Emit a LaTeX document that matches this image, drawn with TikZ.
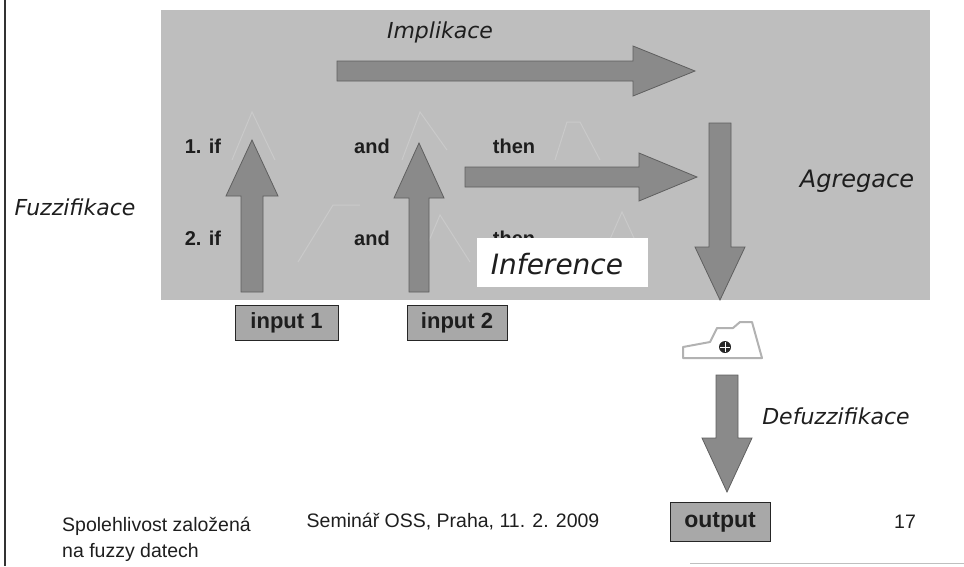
\documentclass[tikz,border=0pt]{standalone}
\usepackage{fontspec}
\setmainfont{Liberation Sans}
\newfontfamily\verd{DejaVu Sans}
\definecolor{panelgray}{RGB}{190,190,190}
\definecolor{faintline}{RGB}{202,202,202}
\definecolor{arrowgray}{RGB}{138,138,138}
\definecolor{arrowedge}{RGB}{95,95,95}
\definecolor{boxgray}{RGB}{168,168,168}
\definecolor{textdark}{RGB}{30,30,30}
\begin{document}
\begin{tikzpicture}[x=1pt,y=-1pt,
  panel/.style={fill=panelgray,draw=none},
  faint/.style={draw=faintline,line width=1pt},
  blockarrow/.style={fill=arrowgray,draw=arrowedge,line width=0.8pt,line join=miter},
  lbl/.style={font=\verd\itshape\fontsize{22}{26}\selectfont,text=textdark,inner sep=0pt},
  rulelbl/.style={font=\bfseries\fontsize{20}{22}\selectfont,text=textdark,inner sep=0pt},
  inbox/.style={draw=black!85,fill=boxgray,line width=1pt,font=\bfseries\fontsize{22}{24}\selectfont,text=textdark,minimum height=35pt,inner sep=0pt},
  foot/.style={font=\fontsize{19.5}{26}\selectfont,text=textdark,inner sep=0pt}]
\useasboundingbox (0,0) rectangle (964,566);
% frame lines
\draw[line width=2pt,black!80] (5,0) -- (5,566);
\draw[line width=1pt,black!25] (690,563) -- (964,563);
% shaded panel
\fill[panel] (161,10) rectangle (930,300);
% faint membership functions in the panel
\draw[faint] (232,160) -- (252,112) -- (275,160);
\draw[faint] (298,262) -- (333,205) -- (360,205);
\draw[faint] (402,160) -- (420,112) -- (447,150);
\draw[faint] (420,262) -- (440,215) -- (470,262);
\draw[faint] (555,160) -- (567,122) -- (580,122) -- (600,160);
\draw[faint] (600,262) -- (622,212) -- (645,262);
% labels in panel
\node[lbl] (impl) at (440,32) {Implikace};
\node[lbl,font=\verd\itshape\fontsize{24}{26}\selectfont] (agr) at (857,181) {Agregace};
\node[rulelbl] (if1) at (203,146) {1. if};
\node[rulelbl] (if2) at (203,238) {2. if};
\node[rulelbl] (and1) at (372,146) {and};
\node[rulelbl] (and2) at (372,238) {and};
\node[rulelbl] (then1) at (514,146) {then};
\node[rulelbl] (then2) at (514,238) {then};
% block arrows
\filldraw[blockarrow] (337,61) -- (633,61) -- (633,46) -- (695,71) -- (633,96) -- (633,81) -- (337,81) -- cycle;
\filldraw[blockarrow] (465,167) -- (639,167) -- (639,153) -- (697,177) -- (639,201) -- (639,187) -- (465,187) -- cycle;
\filldraw[blockarrow] (241,292) -- (241,196) -- (226,196) -- (252,140) -- (278,196) -- (263,196) -- (263,292) -- cycle;
\filldraw[blockarrow] (409,292) -- (409,198) -- (394,198) -- (419,143) -- (444,198) -- (429,198) -- (429,292) -- cycle;
\filldraw[blockarrow] (709,123) -- (731,123) -- (731,247) -- (745,247) -- (720,300) -- (695,247) -- (709,247) -- cycle;
\filldraw[blockarrow] (716,375) -- (738,375) -- (738,438) -- (752,438) -- (727,492) -- (702,438) -- (716,438) -- cycle;
% inference box
\node[fill=white,minimum width=171pt,minimum height=49pt,inner sep=0pt] (infbox) at (562.5,262.5) {};
\node[lbl,font=\verd\itshape\fontsize{28}{32}\selectfont] (inf) at (557,264) {Inference};
% left label
\node[lbl] (fuzz) at (75,207) {Fuzzifikace};
% input boxes
\node[inbox,minimum width=103pt] (in1) at (286.5,322.5) {input 1};
\node[inbox,minimum width=100pt] (in2) at (457,322.5) {input 2};
% output membership shape
\draw[black!30,line width=2pt,line join=round] (683,347) -- (710,342) -- (717,328) -- (733,328) -- (740,322) -- (752,322) -- (762,358) -- (683,358) -- cycle;
\fill[black!85] (725,347) circle (6pt);
\draw[white,line width=1pt] (720,347) -- (730,347) (725,342) -- (725,352);
% defuzzification
\node[lbl] (defuzz) at (836,416) {Defuzzifikace};
\node[inbox,minimum width=100pt,minimum height=39pt,font=\bfseries\fontsize{23}{24}\selectfont] (out) at (720,522) {output};
% footer
\node[foot,anchor=west] (f1a) at (62,526) {Spolehlivost založená};
\node[foot,anchor=west] (f1b) at (62,552) {na fuzzy datech};
\node[foot] (f2) at (453,522) {Seminář OSS, Praha, 11. 2. 2009};
\node[foot] (f3) at (905,522) {17};
\end{tikzpicture}
\end{document}
